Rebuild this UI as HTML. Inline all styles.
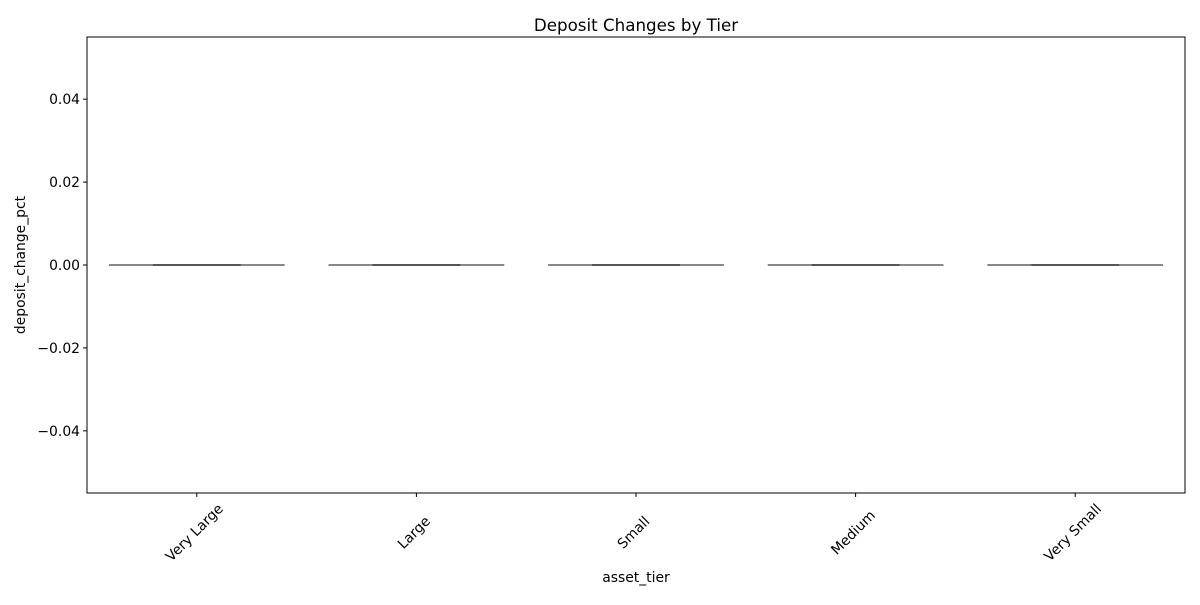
<!DOCTYPE html>
<html><head><meta charset="utf-8"><style>body{margin:0;background:#fff}svg{font-family:"DejaVu Sans","Liberation Sans",sans-serif}</style></head>
<body>
<svg id="chart" width="1200" height="600">
<rect width="1200" height="600" fill="#fff"/>
<text x="636" y="31" font-size="16.7" text-anchor="middle">Deposit Changes by Tier</text>
<g id="yaxis"></g><g id="xaxis"></g><g id="marks"></g>
<rect x="87" y="37" width="1098" height="456" fill="none" stroke="#000" stroke-width="1"/>
<text x="636" y="582" font-size="13.9" text-anchor="middle">asset_tier</text>
<text transform="translate(25,265) rotate(-90)" font-size="13.9" text-anchor="middle">deposit_change_pct</text>
</svg>
<script>
const categories=["Very Large","Large","Small","Medium","Very Small"];
const medians=[0,0,0,0,0];
const q1s=[0,0,0,0,0];
const q3s=[0,0,0,0,0];
const whiskerLow=[0,0,0,0,0];
const whiskerHigh=[0,0,0,0,0];
const yTicks=[-0.04,-0.02,0,0.02,0.04];
const NS="http://www.w3.org/2000/svg";
const L=87,R=1185,T=37,B=493,ymin=-0.055,ymax=0.055;
const step=(R-L)/categories.length;
const xs=i=>L+step*(i+0.5);
const ys=v=>B-(v-ymin)/(ymax-ymin)*(B-T);
function mk(t,a,p){const e=document.createElementNS(NS,t);for(const k in a)e.setAttribute(k,a[k]);p.appendChild(e);return e;}
const ya=document.getElementById('yaxis'),xa=document.getElementById('xaxis'),mg=document.getElementById('marks');
yTicks.forEach(v=>{const y=ys(v);
const t=mk('line',{x1:L-4,x2:L,y1:y,y2:y,stroke:'#000'},ya);


const tx=mk('text',{x:L-7,y:y+5,'font-size':13.9,'text-anchor':'end'},ya);
tx.textContent=(v<0?'\u2212':'')+Math.abs(v).toFixed(2);

});
categories.forEach((c,i)=>{const x=xs(i);
const t=mk('line',{x1:x,x2:x,y1:B,y2:B+4,stroke:'#000'},xa);


const tx=mk('text',{transform:`translate(${x-2},${B+40}) rotate(-45)`,'font-size':13.9,'text-anchor':'middle','dominant-baseline':'middle'},xa);
tx.textContent=c;


const g=mk('g',{},mg);


const wl=step*0.8,bw=step*0.4;
mk('line',{x1:x-wl/2,x2:x+wl/2,y1:ys(whiskerLow[i]),y2:ys(whiskerLow[i]),stroke:'#777','stroke-width':1.5},g);
mk('line',{x1:x-wl/2,x2:x+wl/2,y1:ys(whiskerHigh[i]),y2:ys(whiskerHigh[i]),stroke:'#777','stroke-width':1.5},g);
mk('line',{x1:x,x2:x,y1:ys(whiskerLow[i]),y2:ys(whiskerHigh[i]),stroke:'#555','stroke-width':1.5},g);
const h=Math.max(0,ys(q1s[i])-ys(q3s[i]));
mk('rect',{x:x-bw/2,y:ys(q3s[i]),width:bw,height:h,fill:'#3a75af',stroke:'#555','stroke-width':1.5},g);
mk('line',{x1:x-bw/2,x2:x+bw/2,y1:ys(medians[i]),y2:ys(medians[i]),stroke:'#555','stroke-width':2},g);
});
</script>
</body></html>
